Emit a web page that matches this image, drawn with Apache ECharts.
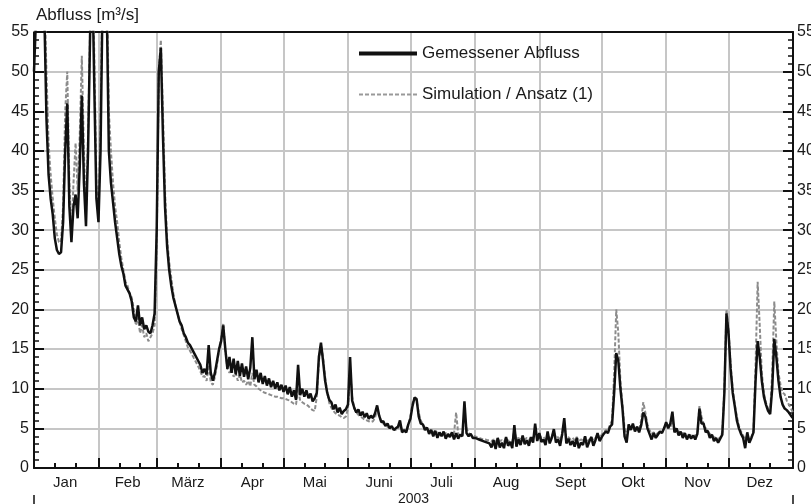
<!DOCTYPE html>
<html>
<head>
<meta charset="utf-8">
<script src="https://cdn.jsdelivr.net/npm/echarts@6/dist/echarts.min.js"></script>
<style>
html, body {margin: 0; padding: 0; background: #fff;}
#abfluss-chart {width: 811px; height: 504px;}
</style>
</head>
<body>
<div id="abfluss-chart"></div>
<script>
//----------------------Data----------------------
let monat_namen = ["Jan", "Feb", "März", "Apr", "Mai", "Juni", "Juli", "Aug", "Sept", "Okt", "Nov", "Dez"];
let monat_tage = [31, 28, 31, 30, 31, 30, 31, 31, 30, 31, 30, 31];
let jahr_label = "2003";

// Gemessener Abfluss, Tageswerte je Monat (Dez mit Endpunkt 31.12.)
let gemessen_monate = [
    [50, 57, 62, 63, 61, 57, 44, 37, 34, 32, 29, 27.5, 27, 27.2, 31, 40, 46, 33, 28.5, 33, 34.5, 31.5, 38, 47, 36, 30.5, 40, 55, 63, 48, 34],
    [31, 40, 60, 66, 58, 40, 36, 33.5, 31, 29, 27, 25.5, 24.5, 23, 22.5, 22, 21, 19, 18.5, 20.5, 18, 19, 17.5, 18, 17.2, 17, 18, 19.5],
    [30, 50, 53, 42, 33, 28, 25, 23, 21.5, 20.5, 19.5, 18.5, 18, 17, 16.5, 15.8, 15.5, 15, 14.5, 14, 13.5, 13, 12, 12.5, 11.8, 15.5, 12, 11, 12, 13.5, 15],
    [16, 18, 15, 12.5, 14, 12, 13.8, 11.8, 13.5, 11.6, 13.2, 11.5, 12.8, 11.2, 12.6, 16.5, 11.2, 12.4, 10.8, 12, 10.6, 11.6, 10.4, 11.3, 10.2, 11, 10, 10.8, 9.8, 10.5],
    [9.6, 10.4, 9.3, 10.2, 9, 9.8, 8.6, 13, 9.2, 10, 9, 9.8, 8.8, 9.4, 8.4, 8.8, 9.5, 14, 15.8, 13.5, 11, 9.5, 8.6, 8.3, 7.4, 8, 7, 7.6, 6.8, 7.2, 7.4],
    [8, 14, 8.5, 7.6, 7.0, 7.4, 6.6, 7.1, 6.4, 6.9, 6.2, 6.6, 6.3, 6.9, 7.9, 6.6, 5.8, 5.9, 5.3, 5.6, 5.0, 5.3, 4.8, 5.0, 5.2, 6.0, 4.5, 4.8, 4.5, 5.5],
    [6.2, 7.8, 8.9, 8.7, 6.5, 5.6, 5.5, 4.8, 5.1, 4.3, 4.8, 4.0, 4.7, 3.8, 4.5, 4.0, 4.6, 3.7, 4.3, 3.9, 4.5, 3.6, 4.4, 3.7, 4.2, 4.0, 8.4, 4.4, 4.0, 4.3, 3.8],
    [3.8, 3.7, 3.6, 3.5, 3.4, 3.3, 3.2, 3.1, 2.6, 3.5, 2.4, 3.8, 2.6, 3.2, 2.5, 3.9, 2.8, 3.3, 2.5, 5.4, 2.7, 3.6, 2.9, 4.1, 3.0, 3.5, 2.8, 3.9, 3.2, 5.6, 3.4],
    [4.4, 3.3, 3.6, 2.9, 4.6, 3.1, 3.8, 4.9, 3.2, 3.6, 2.8, 4.3, 6.3, 3.1, 3.7, 2.9, 3.4, 2.7, 3.8, 2.5, 3.2, 2.9, 4.0, 2.6, 3.3, 3.9, 2.8, 3.5, 4.4, 3.4],
    [3.9, 4.3, 4.6, 4.4, 5.2, 5.5, 9.5, 14.5, 13.5, 10, 7.5, 4, 3.2, 5.5, 4.8, 5.6, 4.6, 5.2, 4.5, 5.4, 7, 6.5, 5, 4.3, 3.6, 4.4, 3.8, 4.2, 4.6, 4.4, 5],
    [5.8, 5.0, 5.6, 7.1, 4.5, 5.0, 4.1, 4.6, 3.8, 4.4, 3.6, 4.2, 3.7, 4.1, 3.6, 4.3, 7.5, 5.6, 5.6, 4.5, 4.7, 3.8, 4.2, 3.4, 3.8, 3.2, 3.7, 4.2, 9.5, 19.5],
    [17, 12.5, 9.5, 7.8, 6, 5, 4.3, 3.8, 2.5, 4.5, 3.2, 3.8, 4.5, 11, 16, 14, 11, 9, 8, 7.2, 6.8, 10, 16.3, 14, 11, 9, 8, 7.5, 7.3, 7, 6.6, 6.3]
];

// Simulation / Ansatz (1)
let simulation_monate = [
    [55, 60, 64, 65, 63, 60, 50, 41, 37, 34, 31.5, 29.5, 28.5, 28.5, 33, 45, 50, 36, 29.5, 36, 41, 35, 42, 52, 40, 32, 42, 56, 65, 52, 36],
    [32, 44, 62, 68, 62, 45, 40, 36, 33, 31, 28.5, 26.5, 25, 23.5, 23, 22, 21.5, 20, 18, 19, 17, 18, 16.5, 17, 16, 16.5, 17, 18],
    [28, 50, 54, 45, 35, 29, 26, 24, 22, 20.5, 19.5, 18.5, 17.5, 16.8, 16, 15.2, 14.8, 14.3, 13.8, 13.3, 12.8, 12.2, 11.5, 11.6, 11, 13, 10.8, 10.5, 11.5, 13, 15],
    [16.5, 18.3, 15, 12.5, 12, 12.5, 11.5, 12, 11, 11.8, 10.8, 11, 10.5, 11, 10.3, 12, 10.5, 10.3, 10, 9.8, 9.6, 9.5, 9.4, 9.3, 9.2, 9.1, 9.0, 9.0, 8.9, 8.8],
    [8.8, 8.7, 8.6, 8.5, 8.3, 8.1, 8.0, 10, 8.5, 8.3, 8.1, 8.0, 7.8, 7.5, 7.3, 7.2, 9, 13.5, 15.5, 14, 11.5, 9.5, 8.2, 7.6, 7.2, 6.9, 6.7, 6.6, 6.4, 6.3, 6.5],
    [7.5, 12.5, 9, 7.5, 7, 6.7, 6.5, 6.3, 6.1, 6.0, 5.9, 5.8, 5.9, 6.3, 7.5, 6.6, 5.9, 5.6, 5.4, 5.2, 5.1, 5.0, 4.9, 4.8, 4.9, 5.5, 4.8, 4.6, 4.7, 5.5],
    [6.5, 8.2, 8.8, 8.5, 7, 6, 5.5, 5.1, 4.9, 4.7, 4.5, 4.6, 4.4, 4.5, 4.3, 4.4, 4.3, 4.4, 4.2, 4.2, 4.1, 4.4, 7.0, 4.3, 4.1, 4.2, 6.5, 5.0, 4.4, 4.2, 4.1],
    [4.0, 3.9, 3.8, 3.7, 3.6, 3.6, 3.5, 3.5, 3.4, 3.6, 3.3, 3.7, 3.4, 3.5, 3.3, 3.8, 3.4, 3.5, 3.3, 4.8, 3.6, 3.8, 3.5, 4.0, 3.6, 3.8, 3.5, 3.9, 3.7, 4.9, 3.8],
    [4.2, 3.8, 3.9, 3.6, 4.3, 3.7, 4.0, 4.6, 3.8, 3.9, 3.6, 4.1, 5.5, 3.8, 3.9, 3.6, 3.8, 3.5, 3.9, 3.4, 3.6, 3.5, 3.9, 3.4, 3.6, 3.9, 3.5, 3.8, 4.3, 3.8],
    [4.2, 4.5, 4.8, 4.7, 5.5, 6, 12, 20, 17, 11, 8, 5, 4, 5.5, 5.0, 5.4, 4.8, 5.2, 4.8, 6, 8.3, 7, 5.5, 4.8, 4.3, 4.5, 4.2, 4.4, 4.6, 4.5, 5],
    [5.6, 5.3, 5.1, 6.0, 4.9, 4.7, 4.6, 4.5, 4.4, 4.3, 4.2, 4.2, 4.1, 4.1, 4.1, 4.2, 7.8, 6.5, 5.6, 5.0, 4.6, 4.3, 4.1, 3.9, 3.8, 3.7, 3.8, 4.5, 10, 20],
    [17.5, 13, 10, 8, 6.5, 5.3, 4.6, 4.1, 3.6, 4.2, 3.6, 3.9, 4.8, 13, 23.5, 18, 12, 9.5, 8.2, 7.5, 7, 12, 21, 16, 12, 10.5, 9.5, 9.3, 8.5, 8, 7.5, 7]
];

let gemessen = [].concat(...gemessen_monate);
let simulation = [].concat(...simulation_monate);

//--------------------Days / Months--------------------
let tage = [];
for (let i = 0; i <= 365; i++) tage.push(String(i));

let monat_start = [];
let monat_mitte = [];
let neben_ticks = [];
let summe = 0;
for (let m = 0; m < 12; m++) {
    monat_start.push(summe);
    monat_mitte.push(summe + Math.floor(monat_tage[m] / 2));
    neben_ticks.push(summe + 10, summe + 20);
    summe += monat_tage[m];
}
monat_start.push(summe);

//--------------------Styles--------------------
let font_family = "Liberation Sans, Arial, sans-serif";
let text_color = "#1a1a1a";
let grid_color = "#c6c6c6";
let axis_color = "#111";

let chart_dom = document.getElementById("abfluss-chart");
let chart = echarts.init(chart_dom);

//----------------------Axis----------------------
let x_main = {
    type: "category",
    data: tage,
    boundaryGap: false,
    position: "bottom",
    axisLine: {lineStyle: {color: axis_color, width: 2}},
    axisTick: {
        inside: true, length: 10,
        interval: function (idx) { return monat_start.indexOf(idx) >= 0; },
        lineStyle: {color: axis_color, width: 2}
    },
    splitLine: {
        show: true,
        interval: function (idx) { return monat_start.indexOf(idx) >= 0; },
        lineStyle: {color: grid_color, width: 2}
    },
    axisLabel: {
        interval: function (idx) { return monat_mitte.indexOf(idx) >= 0; },
        formatter: function (value, idx) { return monat_namen[monat_mitte.indexOf(idx)]; },
        margin: 7,
        color: text_color, fontSize: 15, fontFamily: font_family
    }
};
let x_minor = {
    type: "category",
    data: tage,
    boundaryGap: false,
    position: "bottom",
    axisLine: {show: false},
    axisTick: {
        inside: true, length: 5,
        interval: function (idx) { return neben_ticks.indexOf(idx) >= 0; },
        lineStyle: {color: axis_color, width: 2}
    },
    axisLabel: {show: false},
    splitLine: {show: false}
};
let x_top = {
    type: "category",
    data: tage,
    boundaryGap: false,
    position: "top",
    axisLine: {lineStyle: {color: axis_color, width: 2}},
    axisTick: {show: false},
    axisLabel: {show: false},
    splitLine: {show: false}
};
let x_jahr = {
    type: "category",
    data: tage,
    boundaryGap: false,
    position: "bottom",
    offset: 27,
    axisLine: {show: false},
    axisTick: {
        length: 12,
        interval: function (idx) { return idx === 0 || idx === 365; },
        lineStyle: {color: axis_color, width: 1.5}
    },
    axisLabel: {show: false},
    splitLine: {show: false},
    name: jahr_label,
    nameLocation: "middle",
    nameGap: -3,
    nameTextStyle: {color: text_color, fontSize: 14, fontFamily: font_family, verticalAlign: "top"}
};

let y_common = {
    type: "value",
    min: 0,
    max: 55,
    interval: 5,
    axisLine: {show: true, lineStyle: {color: axis_color, width: 2}},
    axisTick: {show: true, inside: true, length: 10, lineStyle: {color: axis_color, width: 2}},
    minorTick: {show: true, splitNumber: 5, length: 5, lineStyle: {color: axis_color, width: 1.5}},
    axisLabel: {color: text_color, fontSize: 16, fontFamily: font_family, margin: 5}
};
let y_left = Object.assign({}, y_common, {
    position: "left",
    splitLine: {show: true, lineStyle: {color: grid_color, width: 2}}
});
let y_right = Object.assign({}, y_common, {
    position: "right",
    splitLine: {show: false},
    axisLabel: {color: text_color, fontSize: 16, fontFamily: font_family, margin: 4}
});

//---------------------Series---------------------
let series_list = [
    {
        name: "Simulation / Ansatz (1)",
        type: "line",
        data: simulation,
        symbol: "none",
        xAxisIndex: 0, yAxisIndex: 0,
        lineStyle: {color: "#8c8c8c", width: 2, type: [4, 2]},
        itemStyle: {color: "#8c8c8c"},
        z: 2
    },
    {
        name: "Gemessener Abfluss",
        type: "line",
        data: gemessen,
        symbol: "none",
        xAxisIndex: 0, yAxisIndex: 0,
        lineStyle: {color: "#111", width: 2.5},
        itemStyle: {color: "#111"},
        z: 3
    }
];

//---------------------Legend---------------------
let legend = {
    orient: "vertical",
    left: 352,
    top: 40,
    itemWidth: 58,
    itemHeight: 16,
    itemGap: 24,
    itemStyle: {opacity: 0},
    data: [
        {name: "Gemessener Abfluss", lineStyle: {width: 4, color: "#111"}},
        {name: "Simulation / Ansatz (1)", lineStyle: {width: 2, color: "#999", type: [4, 2]}}
    ],
    textStyle: {color: text_color, fontSize: 17, fontFamily: font_family}
};

//------------------Generate Graph------------------
let option = {
    animation: false,
    backgroundColor: "#fff",
    title: {
        text: "Abfluss [m³/s]",
        left: 31,
        top: 2,
        textStyle: {color: text_color, fontSize: 17, fontWeight: "normal", fontFamily: font_family}
    },
    grid: {left: 34, right: 18, top: 32, bottom: 36, outerBoundsMode: "none"},
    xAxis: [x_main, x_minor, x_top, x_jahr],
    yAxis: [y_left, y_right],
    legend: legend,
    series: series_list
};
chart.setOption(option);
</script>
</body>
</html>
